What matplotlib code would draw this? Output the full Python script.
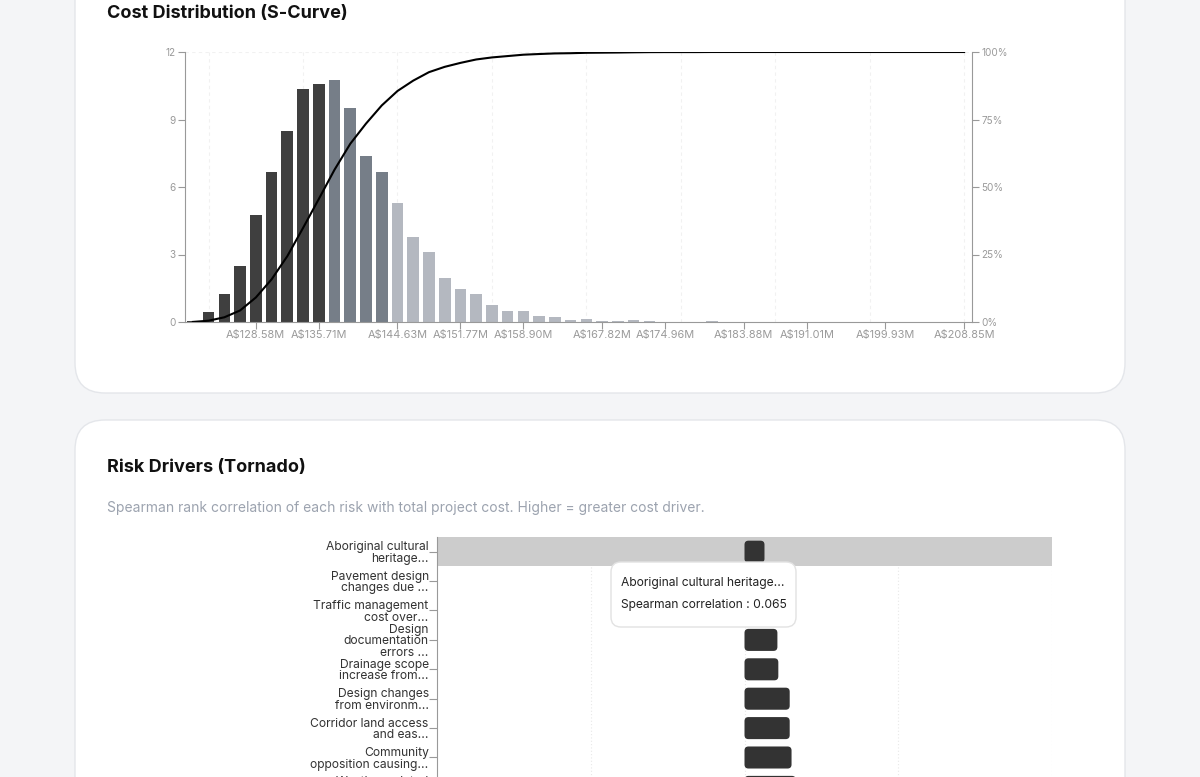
import matplotlib
matplotlib.use("Agg")
import matplotlib.pyplot as plt
from matplotlib.patches import FancyBboxPatch
import numpy as np

plt.rcParams['font.family'] = ['Inter', 'DejaVu Sans']

## histogram: share of simulations per cost bin (%)
bin_pct = [0.03, 0.45, 1.25, 2.5, 4.75, 6.65, 8.5, 10.35, 10.6, 10.75,
           9.5, 7.4, 6.65, 5.3, 3.8, 3.1, 1.95, 1.45, 1.25, 0.75,
           0.5, 0.5, 0.25, 0.22, 0.08, 0.15, 0.05, 0.05, 0.08, 0.06,
           0.02, 0, 0, 0.03, 0, 0, 0, 0, 0, 0,
           0, 0, 0, 0, 0, 0, 0, 0, 0, 0]
# band of each bin: 0 = up to P50, 1 = P50-P80, 2 = above P80
bin_band = [0]*9 + [1]*4 + [2]*37
band_colors = ["#3f3f3f", "#767e88", "#b4b8c0"]
tick_bins = [4, 8, 13, 17, 21, 26, 30, 35, 39, 44, 49]
tick_labels = ["A$128.58M", "A$135.71M", "A$144.63M", "A$151.77M", "A$158.90M",
               "A$167.82M", "A$174.96M", "A$183.88M", "A$191.01M", "A$199.93M",
               "A$208.85M"]
grid_bins = [1, 7, 13, 19, 25, 31, 37, 43, 49]

## tornado
risk_labels = ["Aboriginal cultural\nheritage...",
               "Pavement design\nchanges due ...",
               "Traffic management\ncost over...",
               "Design\ndocumentation\nerrors ...",
               "Drainage scope\nincrease from...",
               "Design changes\nfrom environm...",
               "Corridor land access\nand eas...",
               "Community\nopposition causing...",
               "Weather-related\ndelays..."]
spearman = [0.065, 0.08, 0.095, 0.107, 0.11, 0.147, 0.147, 0.153, 0.167]

W, H = 1200, 777
fig = plt.figure(figsize=(W/100., H/100.), dpi=100)
fig.patch.set_facecolor("#f4f5f7")

def px_axes(x0, y0, x1, y1, **kw):
    return fig.add_axes([x0/W, 1-y1/H, (x1-x0)/W, (y1-y0)/H], **kw)

## page background + cards
bg = fig.add_axes([0, 0, 1, 1], zorder=-10)
bg.set_xlim(0, W); bg.set_ylim(H, 0); bg.axis("off")
for (cx, cy, cw, ch) in [(75, -40, 1050, 433), (75, 420, 1050, 420)]:
    bg.add_patch(FancyBboxPatch((cx, cy), cw, ch, boxstyle="round,pad=0,rounding_size=30",
                                fc="white", ec="#e4e6ea", lw=1))

fig.text(107/W, 1-14/H, "Cost Distribution (S-Curve)", fontsize=13, fontweight="bold",
         color="#111111", va="center", ha="left")
fig.text(107/W, 1-468/H, "Risk Drivers (Tornado)", fontsize=13, fontweight="bold",
         color="#111111", va="center", ha="left")
fig.text(107/W, 1-508/H, "Spearman rank correlation of each risk with total project cost. Higher = greater cost driver.",
         fontsize=10, color="#9ca3af", va="center", ha="left")

## S-curve chart
grey = "#999999"
ax = px_axes(185, 52, 972, 322)
ax.set_facecolor("none")
idx = np.arange(len(bin_pct))
ax.bar(idx, bin_pct, width=0.74, color=[band_colors[b] for b in bin_band], zorder=2)
for g in grid_bins:
    ax.axvline(g, color="#f1f1f1", lw=0.8, ls=(0, (3, 3)), zorder=0)
ax.axhline(12, color="#f1f1f1", lw=0.8, ls=(0, (3, 3)), zorder=0)
ax.set_xlim(-0.5, len(bin_pct)-0.5)
ax.set_ylim(0, 12)
ax.set_yticks([0, 3, 6, 9, 12])
ax.set_xticks(tick_bins)
ax.set_xticklabels(tick_labels)
ax.tick_params(axis="both", colors=grey, labelcolor="#9a9a9a", labelsize=7.9, length=5, width=0.8)
ax.tick_params(axis="x", pad=1)
ax.tick_params(axis="y", labelsize=7.2, pad=2)
for s in ["top", "right"]:
    ax.spines[s].set_visible(False)
for s in ["left", "bottom"]:
    ax.spines[s].set_color(grey)

ax2 = ax.twinx()
cum = np.cumsum(bin_pct) / np.sum(bin_pct) * 100
ax2.plot(idx, cum, color="black", lw=1.5, zorder=5)
ax2.set_ylim(0, 100)
ax2.set_yticks([0, 25, 50, 75, 100])
ax2.set_yticklabels(["0%", "25%", "50%", "75%", "100%"])
ax2.tick_params(axis="y", colors=grey, labelcolor="#9a9a9a", labelsize=7.2, length=5, width=0.8, pad=2)
for s in ["top", "left", "bottom"]:
    ax2.spines[s].set_visible(False)
ax2.spines["right"].set_color(grey)

## tornado chart
n = len(spearman)
row_h = 29.4
tx = px_axes(437, 537, 1052, 537 + n*row_h)
tx.set_facecolor("none")
tx.set_xlim(-1, 1)
tx.set_ylim(n-0.5, -0.5)
tx.axhspan(-0.5, 0.5, color="#cccccc", zorder=1, lw=0)
for g in [-0.5, 0, 0.5, 1.0]:
    tx.axvline(g, color="#e8e8e8", lw=0.8, ls=(0, (1, 2)), zorder=0.5)
bh = 0.75
asp = (1/row_h) / (2/615.)
for i, v in enumerate(spearman):
    tx.add_patch(FancyBboxPatch((0, i - bh/2), v, bh,
                                boxstyle="round,pad=0,rounding_size=0.013",
                                mutation_aspect=asp, fc="#333333", ec="none", zorder=2))
tx.set_yticks(range(n))
tx.set_yticklabels(risk_labels, fontsize=8.7, color="#333333", linespacing=0.95,
                   multialignment="right")
tx.tick_params(axis="y", colors=grey, labelcolor="#333333", length=6, width=0.8, pad=0)
tx.set_xticks([])
for s in ["top", "right", "bottom"]:
    tx.spines[s].set_visible(False)
tx.spines["left"].set_color(grey)

## hover tooltip
top = fig.add_axes([0, 0, 1, 1], zorder=10)
top.set_xlim(0, W); top.set_ylim(H, 0); top.axis("off")
top.patch.set_visible(False)
top.add_patch(FancyBboxPatch((611, 562), 185, 65, boxstyle="round,pad=0,rounding_size=10",
                             fc="white", ec="#e2e2e2", lw=1))
top.text(621, 583, "Aboriginal cultural heritage...", fontsize=8.7, color="#222222", va="center")
top.text(621, 605, "Spearman correlation : %.3f" % spearman[0], fontsize=8.7, color="#222222", va="center")

fig.savefig("out.png", dpi=100)
